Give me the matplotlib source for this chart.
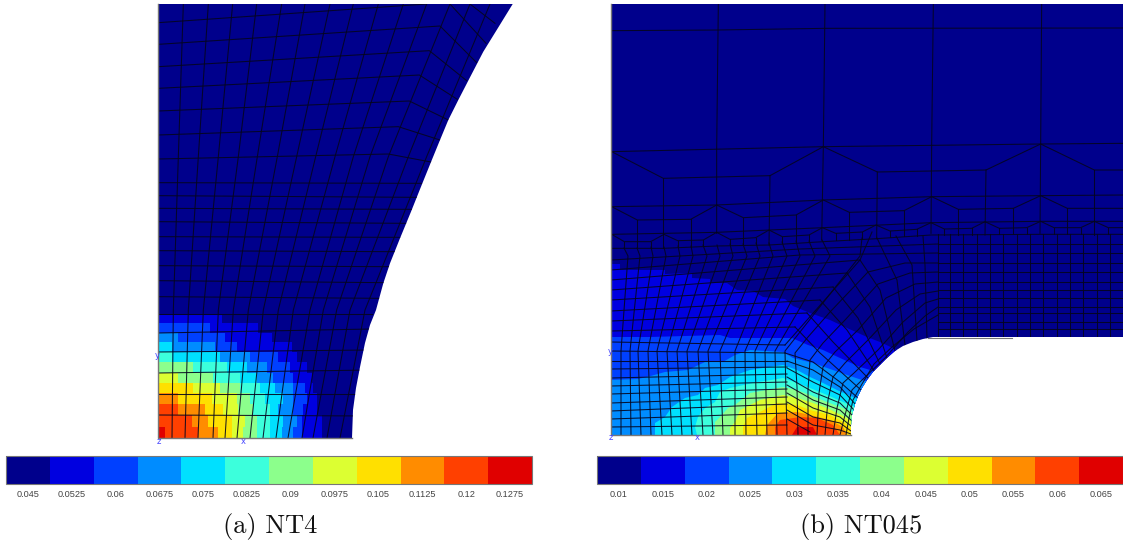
import matplotlib
matplotlib.use("Agg")
from matplotlib import pyplot as plt
from matplotlib.colors import ListedColormap, BoundaryNorm
from matplotlib.cm import ScalarMappable
from matplotlib.patches import Polygon

# jet-like 12 band palette, same for both panels
band_colors = ["#00008c", "#0000e0", "#0040ff", "#008cff", "#00e0ff", "#3cffdc",
               "#8cff8c", "#dcff32", "#ffe000", "#ff8c00", "#ff4000", "#e00000"]
labels_a = ["0.045", "0.0525", "0.06", "0.0675", "0.075", "0.0825",
            "0.09", "0.0975", "0.105", "0.1125", "0.12", "0.1275"]
labels_b = ["0.01", "0.015", "0.02", "0.025", "0.03", "0.035",
            "0.04", "0.045", "0.05", "0.055", "0.06", "0.065"]

# outlines, picture pixels
body_a = [(158, 4), (512.7, 4), (496.7, 30), (483.3, 51.7), (470, 77.3), (458.3, 100), (448.3, 120), (440, 140),
          (431, 162), (421, 186.7), (411, 211.7), (400, 238.3), (390, 263.3), (383.3, 283.3), (376, 310),
          (370, 325), (365, 343), (360, 367), (356, 388), (353, 410), (352, 438), (158, 438)]
body_b = [(611, 4), (1123, 4), (1123, 337), (933, 337), (923, 339), (913, 342), (903, 346), (895, 351),
          (887, 358), (880, 365), (873, 372), (867, 380), (862, 388), (858, 396), (855, 404), (852, 415),
          (851, 425), (851, 435), (611, 435)]

# panel a: colour rows, top edge of each row then for each row where bands end (right to left)
rows_a_y = [315, 323, 333, 342, 352, 362, 373, 383, 393, 404, 415, 427, 438]
rows_a = [
    [222],
    [258, 210],
    [272, 225, 178],
    [292, 237, 215, 172],
    [297, 278, 250, 220, 172],
    [307, 290, 267, 247, 227, 193],
    [312, 293, 273, 257, 240, 213, 178],
    [313, 305, 293, 275, 260, 240, 220, 193],
    [317, 307, 293, 283, 265, 250, 237, 212, 178],
    [317, 303, 293, 278, 270, 253, 238, 223, 205, 178],
    [322, 302, 297, 283, 270, 257, 245, 232, 208, 192],
    [322, 302, 293, 282, 270, 257, 243, 232, 218, 198, 165],
]

# panel a mesh, crop pixel positions of the long lines
a_vert_top = [100, 175, 248, 320, 395, 465, 540, 610, 685, 760, 830, 900, 960, 1020]
a_vert_mid = [85, 145, 205, 265, 322, 382, 440, 497, 555, 610, 660, 715, 775, 830]
a_vert_low = [70, 115, 160, 205, 250, 295, 340, 385, 430, 480, 520, 560, 600, 645]
a_vert_bot = [172, 185, 198, 213, 225, 237, 250, 263, 276, 288, 302, 313, 327, 340]
a_rows_crop = [[(25, 68), (830, 12)], [(25, 133), (870, 78), (980, 188)],
               [(25, 200), (838, 152), (950, 242)], [(25, 265), (808, 225), (922, 298)],
               [(25, 333), (778, 303), (895, 360)], [(25, 405), (745, 380), (870, 420)],
               [(25, 477), (715, 462), (848, 487)], [(25, 548), (815, 550)], [(25, 587), (800, 592)],
               [(25, 625), (785, 628)], [(25, 665), (770, 670)], [(25, 710), (750, 712)],
               [(25, 752), (735, 755)], [(25, 797), (720, 800)], [(25, 842), (705, 848)],
               [(25, 890), (690, 895)], [(900, 12), (1008, 130)], [(960, 12), (1035, 70)]]
a_rows_low = [[(158, 314), (372, 314)], [(158, 333), (372, 329)], [(158, 352), (372, 350)],
              [(158, 373), (372, 370)], [(158, 394), (372, 394)], [(158, 415), (372, 416)]]

# panel b colour bands, upper edge of every band in picture pixels
bands_b = [
    [(611, 264), (620, 264), (620, 270), (665, 270), (665, 274), (692, 273), (692, 278), (710, 279), (710, 283),
     (727, 283), (737, 290), (753, 291), (763, 297), (785, 299), (793, 306), (810, 313), (830, 320), (847, 328),
     (867, 337), (880, 342), (897, 350)],
    [(611, 337), (650, 337), (720, 335), (730, 338), (775, 338), (792, 338), (808, 345), (823, 350), (840, 358),
     (860, 367), (877, 372)],
    [(611, 380), (638, 379), (647, 377), (665, 372), (688, 370), (705, 362), (723, 362), (735, 355), (750, 350),
     (783, 352), (793, 358), (813, 363), (830, 369), (850, 376), (868, 382)],
    [(655, 435), (655, 423), (665, 417), (672, 407), (685, 398), (698, 395), (705, 388), (718, 385), (730, 377),
     (750, 370), (783, 365), (797, 370), (810, 377), (823, 383), (837, 390), (853, 397), (860, 400)],
    [(697, 435), (695, 427), (698, 417), (705, 408), (715, 402), (720, 392), (730, 388), (753, 383), (783, 378),
     (797, 383), (810, 388), (827, 395), (843, 402), (858, 408)],
    [(715, 435), (715, 422), (720, 417), (728, 408), (735, 405), (750, 393), (783, 387), (797, 390), (810, 395),
     (827, 402), (843, 408), (856, 414)],
    [(730, 435), (730, 428), (735, 422), (740, 410), (760, 400), (783, 395), (797, 398), (810, 402), (827, 408),
     (847, 418), (854, 423)],
    [(743, 435), (743, 427), (747, 418), (760, 412), (777, 403), (797, 405), (810, 410), (830, 415), (845, 423),
     (853, 430)],
    [(765, 435), (767, 425), (778, 413), (797, 412), (810, 415), (830, 420), (843, 427), (847, 435)],
    [(775, 435), (775, 427), (780, 420), (800, 417), (817, 418), (833, 425), (840, 435)],
    [(792, 435), (797, 427), (813, 427), (817, 435)],
]

# panel b mesh, upper blocks (crop at 605,0, 3x)
b_top_lines = [
    [(20, 92), (340, 90), (660, 85), (1554, 84)],
    [(340, 12), (335, 450), (335, 700)], [(660, 12), (655, 440), (650, 720)],
    [(985, 12), (980, 435), (978, 700)], [(1310, 12), (1307, 432), (1305, 700)],
    [(20, 455), (655, 440), (1307, 432), (1554, 430)],
    [(20, 455), (175, 535), (495, 527), (655, 440), (817, 516), (1143, 510), (1307, 432), (1468, 510), (1554, 510)],
    [(175, 535), (175, 745)], [(495, 527), (492, 735)], [(817, 516), (815, 716)], [(1143, 510), (1140, 705)],
    [(1468, 510), (1468, 705)],
    [(20, 620), (335, 615), (655, 600), (980, 590), (1307, 587), (1554, 585)],
    [(20, 620), (97, 660), (257, 658), (335, 615), (415, 653), (573, 645), (655, 600), (733, 637), (897, 632),
     (980, 590), (1060, 628), (1225, 625), (1307, 587), (1387, 625), (1554, 625)],
    [(97, 660), (97, 745)], [(257, 658), (257, 742)], [(415, 653), (415, 736)], [(573, 645), (573, 730)],
    [(733, 637), (733, 720)], [(897, 632), (897, 708)], [(1060, 628), (1060, 704)], [(1225, 625), (1225, 703)],
    [(1387, 625), (1387, 703)],
    [(20, 703), (58, 725), (137, 725), (177, 703), (218, 722), (295, 720), (335, 697), (375, 718), (452, 713),
     (492, 690), (532, 710), (612, 705), (652, 683), (692, 700), (772, 696), (813, 675), (855, 693), (935, 688),
     (978, 668), (1018, 687), (1100, 685), (1140, 665), (1183, 685), (1265, 683), (1307, 664), (1347, 683),
     (1427, 683), (1468, 664), (1510, 683), (1554, 683)],
    [(20, 703), (335, 697), (655, 683), (978, 668), (1307, 664), (1554, 664)],
    [(20, 745), (175, 745), (335, 738), (492, 735), (655, 725), (815, 716), (978, 705), (1307, 703), (1554, 703)],
]
b_chev_x = [58, 137, 218, 295, 375, 452, 532, 612, 692, 772, 855, 935, 1018, 1100, 1183, 1265, 1347, 1427, 1510]
b_chev_top = [725, 725, 722, 720, 718, 713, 710, 705, 700, 696, 693, 688, 687, 685, 685, 683, 683, 683, 683]
b_chev_bot = [745, 745, 741, 738, 736, 733, 729, 726, 720, 717, 711, 707, 705, 704, 703, 703, 703, 703, 703]

# lower left block and the tilted lines above it, picture pixels
b_col_bot = [621, 631, 641, 651, 662, 672, 682, 692, 703, 713, 723, 735, 746, 757, 767, 777, 787]
b_col_351 = [621, 630, 638, 648, 657, 667, 677, 687, 698, 708, 720, 735, 745, 755, 765, 775, 785]
b_col_kink = [628, 640, 653, 666, 680, 693, 707, 720, 733, 747, 760, 773, 787, 800, 815, 830, 860]
b_col_chev = [624, 637, 651, 664, 678, 691, 703, 717, 730, 743, 756, 769, 782, 796, 809, 822, 862]
b_col_chev_y = [248, 248, 247, 247, 246, 246, 245, 245, 244, 244, 243, 243, 242, 241, 241, 240, 238]
b_rows_left = [[(611, 351), (785, 353)], [(611, 342), (785, 345)], [(611, 331), (795, 327)], [(611, 321), (807, 313)],
               [(611, 311), (820, 300)], [(611, 300), (833, 287)], [(611, 290), (847, 273)], [(611, 280), (860, 260)],
               [(611, 270), (800, 255), (938, 253)], [(611, 260), (800, 249), (938, 244)]]
b_rows_low_y = [[(611, 361), (787, 361)], [(611, 369), (787, 367)], [(611, 378), (787, 374)], [(611, 386), (787, 382)],
                [(611, 394), (787, 389)], [(611, 403), (787, 397)], [(611, 411), (787, 404)], [(611, 419), (787, 413)],
                [(611, 427), (787, 425)]]

# arcs round the notch, bottom edge to the straight part of the plate
b_arcs = [[(798, 435), (797, 387), (795, 353), (808, 337), (830, 312), (868, 272), (905, 263), (938, 263)],
          [(808, 435), (808, 390), (810, 360), (823, 343), (845, 320), (878, 284), (910, 273), (938, 272)],
          [(817, 435), (819, 393), (823, 367), (835, 352), (858, 330), (886, 298), (915, 284), (938, 282)],
          [(825, 435), (828, 400), (833, 377), (845, 363), (868, 340), (896, 310), (920, 294), (938, 291)],
          [(833, 435), (837, 408), (843, 383), (854, 373), (878, 350), (903, 322), (925, 303), (938, 299)],
          [(840, 435), (845, 415), (852, 390), (860, 382), (885, 358), (908, 332), (925, 316), (938, 307)],
          [(846, 435), (849, 418), (853, 400), (862, 384), (874, 364), (892, 347), (914, 329), (938, 315)],
          [(785, 345), (860, 260), (872, 232)]]
# lines from the arcs block into the notch edge
b_spokes = [[(860, 260), (880, 290), (895, 351)], [(847, 273), (870, 307), (887, 358)], [(833, 287), (858, 318), (880, 364)],
            [(820, 300), (847, 330), (875, 372)], [(807, 313), (833, 342), (868, 378)], [(795, 327), (820, 353), (861, 390)],
            [(785, 353), (813, 362), (840, 382), (858, 398)], [(787, 361), (813, 370), (840, 387), (856, 405)],
            [(787, 368), (813, 382), (840, 395), (854, 410)], [(787, 377), (813, 392), (840, 403), (853, 416)],
            [(787, 385), (813, 400), (840, 410), (852, 421)], [(787, 393), (813, 408), (840, 417), (851, 426)],
            [(787, 402), (813, 417), (840, 423), (851, 431)], [(787, 410), (813, 425), (840, 430), (851, 434)],
            [(787, 419), (810, 432)], [(938, 234), (938, 337)], [(923, 236), (925, 265), (927, 339)],
            [(896, 236), (912, 265), (917, 341)], [(877, 238), (897, 280), (905, 345)]]
# straight plate on the right of the notch
b_plate_x = [950, 963, 977, 990, 1003, 1017, 1030, 1043, 1057, 1070, 1083, 1097, 1110]
b_plate_y = [244, 253, 263, 272, 282, 290, 298, 307, 313, 322, 329]


def crop(points, left, top):
    return [(left + x / 3.0, top + y / 3.0) for x, y in points]


def drawline(ax, points, clip):
    xs = [p[0] for p in points]
    ys = [p[1] for p in points]
    line, = ax.plot(xs, ys, color="#05051e", lw=0.75, solid_joinstyle="miter", alpha=0.9)
    line.set_clip_path(clip)


def bodypatch(ax, outline):
    patch = Polygon(outline, closed=True, facecolor=band_colors[0], edgecolor="none")
    ax.add_patch(patch)
    return patch


def colorbar(fig, left, labels, first, step):
    cax = fig.add_axes([left / 1123.0, 1 - 484 / 544.0, 526 / 1123.0, 28 / 544.0])
    edges = [first - step / 2 + i * step for i in range(13)]
    norm = BoundaryNorm(edges, 12)
    ticks = [first + i * step for i in range(12)]
    bar = fig.colorbar(ScalarMappable(norm=norm, cmap=ListedColormap(band_colors)), cax=cax,
                       orientation="horizontal", ticks=ticks, spacing="proportional")
    bar.ax.set_xticklabels(labels, fontsize=6.6, color="#444444", family="Liberation Sans")
    bar.ax.tick_params(length=0, pad=4.5)
    bar.ax.minorticks_off()
    bar.outline.set_edgecolor("#777777")
    bar.outline.set_linewidth(0.8)


fig = plt.figure(figsize=(11.23, 5.44), dpi=100)
ax = fig.add_axes([0, 0, 1, 1])
ax.set_xlim(0, 1123)
ax.set_ylim(544, 0)
ax.axis("off")

# panel a
patch_a = bodypatch(ax, body_a)
for i in range(len(rows_a)):
    y0 = rows_a_y[i]
    y1 = rows_a_y[i + 1]
    ends = rows_a[i]
    for j in range(len(ends)):
        # ends go from the lowest band outwards, each painted from the left edge
        ax.fill_between([158, ends[j]], y0, y1, color=band_colors[j + 1], lw=0, antialiased=False)
for i in range(14):
    pts = crop([(a_vert_top[i], 12), (a_vert_mid[i], 470), (a_vert_low[i], 930)], 150, 0) + [(a_vert_bot[i], 438)]
    drawline(ax, pts, patch_a)
for row in a_rows_crop:
    drawline(ax, crop(row, 150, 0), patch_a)
for row in a_rows_low:
    drawline(ax, row, patch_a)
ax.plot([158, 158, 352], [4, 438, 438], color="#777777", lw=1.0)

# panel b
patch_b = bodypatch(ax, body_b)
for i in range(len(bands_b)):
    edge = bands_b[i]
    xs = [p[0] for p in edge] + [905, edge[0][0]]
    ys = [p[1] for p in edge] + [440, 440]
    poly, = ax.fill(xs, ys, color=band_colors[i + 1], lw=0)
    poly.set_clip_path(patch_b)
for line in b_top_lines:
    drawline(ax, crop(line, 605, 0), patch_b)
for i in range(len(b_chev_x)):
    drawline(ax, crop([(b_chev_x[i], b_chev_top[i]), (b_chev_x[i], b_chev_bot[i])], 605, 0), patch_b)
for i in range(17):
    pts = [(b_col_chev[i], b_col_chev_y[i]), (b_col_kink[i], 256), (b_col_351[i], 351), (b_col_bot[i], 435)]
    drawline(ax, pts, patch_b)
for row in b_rows_left + b_rows_low_y + b_arcs + b_spokes:
    drawline(ax, row, patch_b)
for x in b_plate_x:
    drawline(ax, [(x, 234), (x, 337)], patch_b)
for y in b_plate_y:
    drawline(ax, [(938, y), (1123, y)], patch_b)
ax.plot([611, 611, 851], [4, 435, 435], color="#777777", lw=1.0)
ax.plot([928, 1012], [337.5, 337.5], color="#777777", lw=0.8)

# little triad letters
for x, y, s in [(159, 441, "z"), (243, 441, "x"), (157, 356, "y"), (611, 437, "z"), (697, 437, "x"), (610, 352, "y")]:
    ax.text(x, y, s, color="#4848ff", fontsize=6, ha="center", va="center")

colorbar(fig, 6, labels_a, 0.045, 0.0075)
colorbar(fig, 597, labels_b, 0.01, 0.005)

ax.text(270, 533, "(a) NT4", family="cmr10", fontsize=19, ha="center", va="baseline", color="#111111")
ax.text(861, 533, "(b) NT045", family="cmr10", fontsize=19, ha="center", va="baseline", color="#111111")

fig.savefig("out.png", dpi=100)
